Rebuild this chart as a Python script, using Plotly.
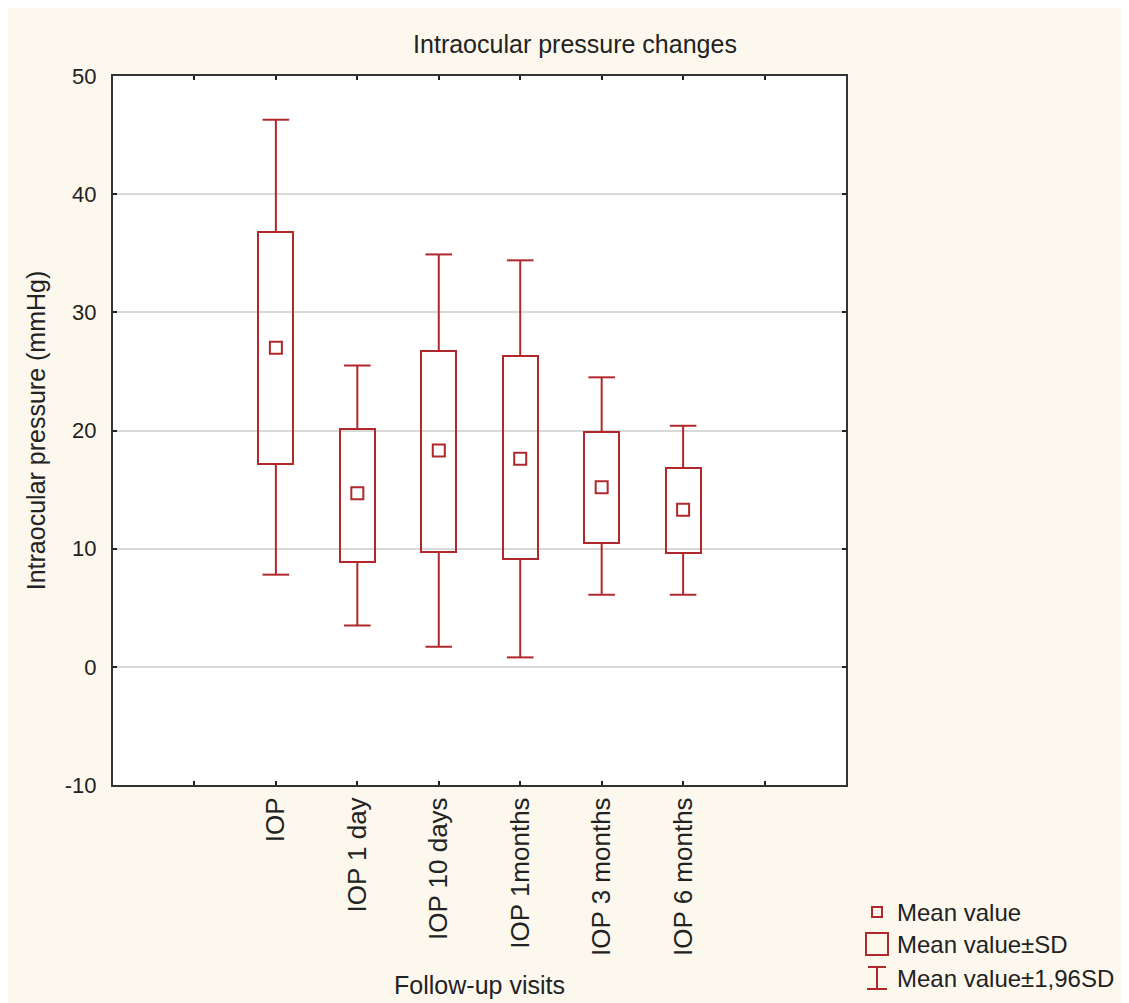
import plotly.graph_objects as go

categories = ["IOP", "IOP 1 day", "IOP 10 days", "IOP 1months", "IOP 3 months", "IOP 6 months"]
positions = [2, 3, 4, 5, 6, 7]
mean_vals = [27.0, 14.7, 18.3, 17.6, 15.2, 13.3]
sd_low = [17.2, 8.9, 9.7, 9.1, 10.5, 9.6]
sd_high = [36.8, 20.1, 26.7, 26.3, 19.9, 16.8]
ci_low = [7.8, 3.5, 1.7, 0.8, 6.1, 6.1]
ci_high = [46.3, 25.5, 34.9, 34.4, 24.5, 20.4]

y_ticks = [-10, 0, 10, 20, 30, 40, 50]
y_ticktext = ["-10", "0", "10", "20", "30", "40", "50"]
x_ticks = [1, 2, 3, 4, 5, 6, 7, 8]
x_ticktext = [""] + categories + [""]

RED = "#b0282c"
BG = "#fdf8ee"
FONT = "Liberation Sans"

# plot-area geometry (figure pixel coords) for legend placement
L, R, T, B = 105, 838, 68, 777
def px(fx):
    return (fx - L) / (R - L)
def py(fy):
    return (B - fy) / (B - T)

fig = go.Figure()

# Mean ± SD boxes
fig.add_trace(go.Bar(
    x=positions, base=sd_low, y=[h - l for h, l in zip(sd_high, sd_low)],
    width=0.43, marker=dict(color="rgba(255,255,255,0)", line=dict(color=RED, width=2)),
    showlegend=False, hoverinfo="skip",
))

# Whiskers (Mean ± 1.96 SD)
wx, wy = [], []
for p, lo, q1, q3, hi in zip(positions, ci_low, sd_low, sd_high, ci_high):
    wx += [p, p, None, p, p, None]
    wy += [lo, q1, None, q3, hi, None]
fig.add_trace(go.Scatter(x=wx, y=wy, mode="lines", line=dict(color=RED, width=2),
                         showlegend=False, hoverinfo="skip"))
fig.add_trace(go.Scatter(
    x=positions + positions, y=ci_low + ci_high, mode="markers",
    marker=dict(symbol="line-ew", size=19, color=RED, line=dict(width=2, color=RED)),
    showlegend=False, hoverinfo="skip",
))

# Means
fig.add_trace(go.Scatter(
    x=positions, y=mean_vals, mode="markers",
    marker=dict(symbol="square-open", size=12, color=RED, line=dict(width=2, color=RED)),
    showlegend=False,
))

fig.update_layout(
    width=1129, height=1003,
    paper_bgcolor=BG, plot_bgcolor="#ffffff",
    margin=dict(l=L, r=1129 - R, t=T, b=1003 - B),
    font=dict(family=FONT, color="#222222", size=24),
    title=dict(text="Intraocular pressure changes", x=567 / 1129, xanchor="center",
               y=1 - 36 / 1003, yanchor="middle", font=dict(size=25, family=FONT)),
    showlegend=False,
    bargap=0,
)
fig.update_xaxes(
    range=[0, 9], tickmode="array", tickvals=x_ticks, ticktext=x_ticktext,
    tickangle=-90, ticks="inside", ticklen=4, tickwidth=2, tickcolor="#222",
    showline=True, linecolor="#333", linewidth=2, mirror="ticks",
    showgrid=False, zeroline=False, tickfont=dict(size=26),
    title=dict(text="Follow-up visits", font=dict(size=25), standoff=22),
)
fig.update_yaxes(
    range=[-10, 50], tickmode="array", tickvals=y_ticks, ticktext=y_ticktext,
    ticks="inside", ticklen=4, tickwidth=2, tickcolor="#222",
    showline=True, linecolor="#333", linewidth=2, mirror="ticks",
    showgrid=True, gridcolor="#d9d9d9", gridwidth=1.5, zeroline=False,
    tickfont=dict(size=22), ticklabelstandoff=10,
    title=dict(text="Intraocular pressure (mmHg)", font=dict(size=25), standoff=12),
)

# Legend (icons + labels)
legend_labels = ["Mean value", "Mean value±SD", "Mean value±1,96SD"]
legend_rows_y = [904, 936, 970]
icon_x = 869
# mean icon: small square
fig.add_shape(type="rect", xref="paper", yref="paper",
              x0=px(icon_x - 5), x1=px(icon_x + 5), y0=py(legend_rows_y[0] + 5), y1=py(legend_rows_y[0] - 5),
              line=dict(color=RED, width=2), fillcolor="rgba(0,0,0,0)")
# SD icon: larger box
fig.add_shape(type="rect", xref="paper", yref="paper",
              x0=px(icon_x - 11), x1=px(icon_x + 11), y0=py(legend_rows_y[1] + 11), y1=py(legend_rows_y[1] - 11),
              line=dict(color=RED, width=2), fillcolor="rgba(0,0,0,0)")
# 1.96 SD icon: I-beam
cy = legend_rows_y[2]
for x0, x1, y0, y1 in [(icon_x, icon_x, cy - 11, cy + 11),
                       (icon_x - 9, icon_x + 9, cy - 11, cy - 11),
                       (icon_x - 10, icon_x + 10, cy + 11, cy + 11)]:
    fig.add_shape(type="line", xref="paper", yref="paper",
                  x0=px(x0), x1=px(x1), y0=py(y0), y1=py(y1), line=dict(color=RED, width=2))
for label, ry in zip(legend_labels, legend_rows_y):
    fig.add_annotation(xref="paper", yref="paper", x=px(887), y=py(ry),
                       text=label, showarrow=False, xanchor="left", yanchor="middle",
                       font=dict(family=FONT, size=24, color="#222222"))

fig.write_html("out.html")
